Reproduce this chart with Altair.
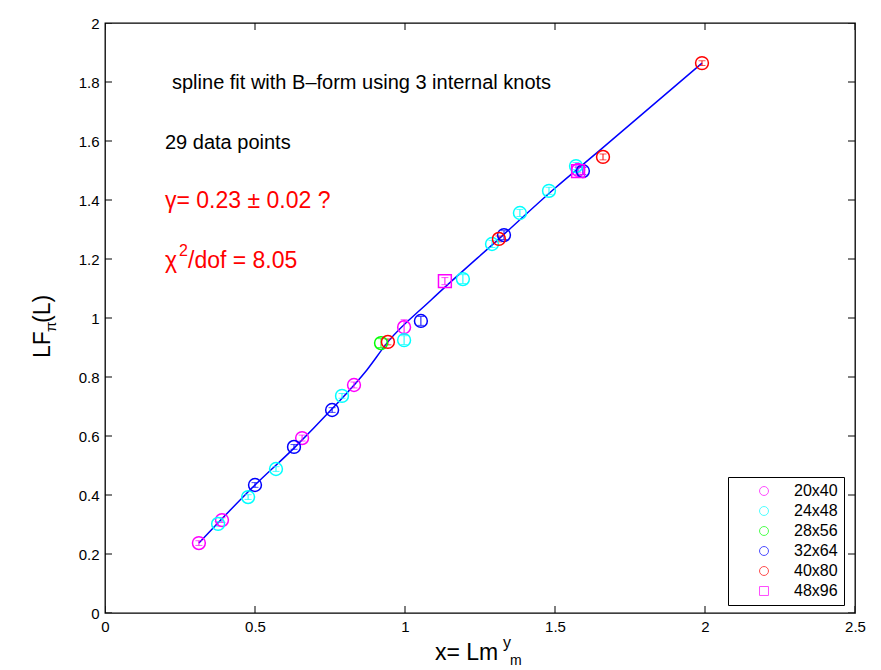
import altair as alt
import pandas as pd

# ---- lattice series: x = L*m^y, LF_pi(L), error ----
SERIES = ["20x40", "24x48", "28x56", "32x64", "40x80", "48x96"]
COLORS = ["#ff00ff", "#00ffff", "#00ff00", "#0000ff", "#ff0000", "#ff00ff"]
SHAPES = ["circle", "circle", "circle", "circle", "circle", "square"]

x_20x40 = [0.313, 0.390, 0.657, 0.830, 0.997, 1.577]
y_20x40 = [0.237, 0.315, 0.593, 0.773, 0.969, 1.502]
e_20x40 = [0.008, 0.008, 0.010, 0.010, 0.025, 0.010]

x_24x48 = [0.377, 0.477, 0.570, 0.790, 0.997, 1.193, 1.290, 1.383, 1.480, 1.570]
y_24x48 = [0.302, 0.393, 0.488, 0.736, 0.925, 1.132, 1.251, 1.356, 1.431, 1.515]
e_24x48 = [0.008, 0.008, 0.008, 0.008, 0.015, 0.015, 0.012, 0.012, 0.012, 0.012]

x_28x56 = [0.920]
y_28x56 = [0.915]
e_28x56 = [0.015]

x_32x64 = [0.500, 0.630, 0.757, 1.053, 1.330, 1.593]
y_32x64 = [0.434, 0.563, 0.688, 0.990, 1.281, 1.498]
e_32x64 = [0.008, 0.008, 0.008, 0.015, 0.015, 0.012]

x_40x80 = [0.943, 1.313, 1.660, 1.990]
y_40x80 = [0.919, 1.268, 1.546, 1.864]
e_40x80 = [0.010, 0.010, 0.010, 0.008]

x_48x96 = [1.133, 1.577]
y_48x96 = [1.125, 1.498]
e_48x96 = [0.012, 0.012]

# spline fit (B-form, 3 internal knots), sampled along x
fit_x = [0.313, 0.500, 0.630, 0.757, 0.873, 0.943, 1.087, 1.327, 1.493, 1.650, 1.990]
fit_y = [0.237, 0.434, 0.559, 0.692, 0.824, 0.919, 1.061, 1.281, 1.434, 1.569, 1.864]

x_ticks = [0, 0.5, 1, 1.5, 2, 2.5]
y_ticks = [0, 0.2, 0.4, 0.6, 0.8, 1, 1.2, 1.4, 1.6, 1.8, 2]

W, H = 750, 590

rows = []
for (name, xs_, ys_, es_), c in zip([
    ("20x40", x_20x40, y_20x40, e_20x40),
    ("24x48", x_24x48, y_24x48, e_24x48),
    ("28x56", x_28x56, y_28x56, e_28x56),
    ("32x64", x_32x64, y_32x64, e_32x64),
    ("40x80", x_40x80, y_40x80, e_40x80),
    ("48x96", x_48x96, y_48x96, e_48x96),
], COLORS):
    for xv, yv, ev in zip(xs_, ys_, es_):
        rows.append({"lat": name, "c": c, "x": xv, "y": yv,
                     "lo": yv - ev, "hi": yv + ev})
pts = pd.DataFrame(rows)
fit = pd.DataFrame({"x": fit_x, "y": fit_y})
one = pd.DataFrame({"k": [0]})

xs = alt.Scale(domain=[0, 2.5], nice=False, zero=False)
ys = alt.Scale(domain=[0, 2], nice=False, zero=False)
col = alt.Scale(domain=SERIES, range=COLORS)
shp = alt.Scale(domain=SERIES, range=SHAPES)

tick_font = "Liberation Sans Narrow, Liberation Sans, Arial"
text_font = "Liberation Sans, Arial, Helvetica"

x_axis = alt.Axis(values=x_ticks, ticks=False, domain=False, grid=False,
                  labelFont=tick_font, labelFontSize=15, labelColor="black",
                  labelPadding=6, title=None, labelFlush=False,
                  labelExpr="format(datum.value, '~g')")
y_axis = alt.Axis(values=y_ticks, ticks=False, domain=False, grid=False,
                  labelFont=tick_font, labelFontSize=15, labelColor="black",
                  labelPadding=6, title=None, labelFlush=False,
                  labelExpr="format(datum.value, '~g')")

leg = alt.Legend(
    title=None, orient="none", legendX=623, legendY=454,
    fillColor="white", strokeColor="black", padding=6,
    symbolSize=80, symbolStrokeWidth=1, symbolOffset=22,
    labelOffset=22, labelFont=text_font, labelFontSize=16,
    labelColor="black", rowPadding=4, labelLimit=200)

base = alt.Chart(pts)

points = base.mark_point(size=165, strokeWidth=1.5, filled=False, opacity=1).encode(
    x=alt.X("x:Q", scale=xs, axis=x_axis),
    y=alt.Y("y:Q", scale=ys, axis=y_axis),
    color=alt.Color("lat:N", scale=col, legend=leg),
    shape=alt.Shape("lat:N", scale=shp, legend=leg),
)

err_bar = base.mark_rule(strokeWidth=1).encode(
    x="x:Q", y="lo:Q", y2="hi:Q", color=alt.Color("c:N", scale=None))
err_lo = base.mark_tick(orient="horizontal", size=7, thickness=1).encode(
    x="x:Q", y="lo:Q", color=alt.Color("c:N", scale=None))
err_hi = base.mark_tick(orient="horizontal", size=7, thickness=1).encode(
    x="x:Q", y="hi:Q", color=alt.Color("c:N", scale=None))

fit_line = alt.Chart(fit).mark_line(color="#0000ff", strokeWidth=1.5,
                                    interpolate="monotone").encode(
    x="x:Q", y="y:Q")

# inward ticks on all four sides
xt = pd.DataFrame({"t": x_ticks})
yt = pd.DataFrame({"t": y_ticks})
tick_kw = dict(color="black", thickness=1, size=14, clip=True, opacity=1)
xt_bottom = alt.Chart(xt).mark_tick(orient="vertical", **tick_kw).encode(
    x=alt.X("t:Q", scale=xs), y=alt.datum(0, scale=ys))
xt_top = alt.Chart(xt).mark_tick(orient="vertical", **tick_kw).encode(
    x=alt.X("t:Q", scale=xs), y=alt.datum(2, scale=ys))
yt_left = alt.Chart(yt).mark_tick(orient="horizontal", **tick_kw).encode(
    y=alt.Y("t:Q", scale=ys), x=alt.datum(0, scale=xs))
yt_right = alt.Chart(yt).mark_tick(orient="horizontal", **tick_kw).encode(
    y=alt.Y("t:Q", scale=ys), x=alt.datum(2.5, scale=xs))


def label(txt, x, y, size, color="black", angle=0, font=text_font):
    kw = dict(text=txt, font=font, fontSize=size, color=color,
              align="left", baseline="alphabetic")
    if angle:
        kw["angle"] = angle
    return alt.Chart(one).mark_text(**kw).encode(
        x=alt.value(x), y=alt.value(y))


notes = [
    label("spline fit with B\u2013form using 3 internal knots", 67, 66, 20),
    label("29 data points", 60, 126, 20),
    label("\u03b3= 0.23 \u00b1 0.02 ?", 60, 185, 23, "#ff0000"),
    label("\u03c7", 60, 245, 23, "#ff0000"),
    label("2", 74, 233, 16, "#ff0000"),
    label("/dof = 8.05", 83, 245, 23, "#ff0000"),
    # x axis title: x= L m^{y_m}
    label("x= Lm", 330, 637, 23),
    label("y", 398, 625, 16),
    label("m", 405, 642, 14),
    # y axis title: LF_pi(L)
    label("LF", -55, 335, 23, angle=270),
    label("\u03c0", -49, 309, 15, angle=270),
    label("(L)", -55, 300, 23, angle=270),
]

chart = alt.layer(
    fit_line, err_bar, err_lo, err_hi, points,
    xt_bottom, xt_top, yt_left, yt_right, *notes
).properties(
    width=W, height=H,
    autosize=alt.AutoSizeParams(type="none"),
    padding={"left": 105, "top": 23, "right": 26, "bottom": 57},
    background="white",
).configure_view(
    stroke="black", strokeWidth=1.3
)

chart.save("out.html", embed_options={"renderer": "svg", "actions": False})
